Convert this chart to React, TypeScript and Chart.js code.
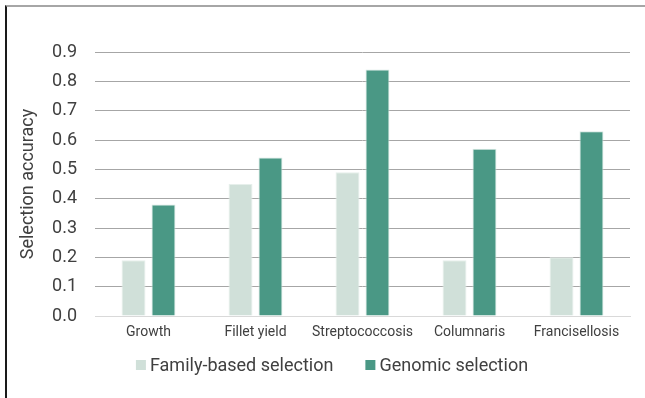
import React, { useEffect, useRef } from "react";
import { Chart, registerables } from "chart.js";

Chart.register(...registerables);

const categories = ["Growth", "Fillet yield", "Streptococcosis", "Columnaris", "Francisellosis"];
const familyBased = [0.19, 0.45, 0.49, 0.19, 0.2];
const genomic = [0.38, 0.54, 0.84, 0.57, 0.63];
const seriesNames = ["Family-based selection", "Genomic selection"];
const seriesColors = ["#d0e0d9", "#4a9885"];

const FONT = "Roboto, 'Noto Sans', sans-serif";
const TEXT = "#404040";

// Legend drawn beneath the category labels: small square swatch, tight gap, large text.
const bottomLegend = {
  id: "bottomLegend",
  afterDraw(chart: any) {
    const ctx = chart.ctx as CanvasRenderingContext2D;
    const fontSize = 18;
    const box = 10;
    const gap = 4;
    const spacing = 32;
    const y = 365;
    ctx.save();
    ctx.font = `${fontSize}px ${FONT}`;
    ctx.textBaseline = "middle";
    const items = chart.data.datasets.map((ds: any) => ({
      label: ds.label as string,
      color: ds.backgroundColor as string,
      w: box + gap + ctx.measureText(ds.label).width,
    }));
    const total = items.reduce((s: number, it: any) => s + it.w, 0) + spacing * (items.length - 1);
    const center = 332;
    let x = center - total / 2;
    for (const it of items) {
      ctx.fillStyle = it.color;
      ctx.fillRect(x, y - box / 2, box, box);
      ctx.fillStyle = TEXT;
      ctx.textAlign = "left";
      ctx.fillText(it.label, x + box + gap, y + 1);
      x += it.w + spacing;
    }
    ctx.restore();
  },
};

export default function App() {
  const canvasRef = useRef<HTMLCanvasElement | null>(null);

  useEffect(() => {
    if (!canvasRef.current) return;
    const chart = new Chart(canvasRef.current, {
      type: "bar",
      data: {
        labels: categories,
        datasets: [
          {
            label: seriesNames[0],
            data: familyBased,
            backgroundColor: seriesColors[0],
            borderColor: "#e6efeb",
            borderWidth: 1,
            categoryPercentage: 0.56,
            barPercentage: 0.8,
          },
          {
            label: seriesNames[1],
            data: genomic,
            backgroundColor: seriesColors[1],
            borderColor: "#d6e8e2",
            borderWidth: 1,
            categoryPercentage: 0.56,
            barPercentage: 0.8,
          },
        ],
      },
      options: {
        animation: false,
        responsive: false,
        devicePixelRatio: 1,
        layout: { padding: { top: 52, right: 15, bottom: 58, left: 0 } },
        plugins: {
          legend: { display: false },
          tooltip: { enabled: false },
        },
        scales: {
          x: {
            afterFit: (scale: any) => {
              scale.height = 24;
            },
            grid: { display: false, drawTicks: false },
            border: { display: true, color: "#d9d9d9", width: 1 },
            ticks: {
              color: TEXT,
              font: { family: FONT, size: 14 },
              padding: 8,
              maxRotation: 0,
              autoSkip: false,
            },
          },
          y: {
            min: 0,
            max: 0.9,
            afterFit: (scale: any) => {
              scale.width = 95;
            },
            grid: {
              color: (c: any) => (c.tick && c.tick.value === 0 ? "#d9d9d9" : "#a6a6a6"),
              lineWidth: 1,
              drawTicks: false,
            },
            border: { display: false },
            ticks: {
              stepSize: 0.1,
              color: TEXT,
              font: { family: FONT, size: 18 },
              padding: 18,
              callback: (v: any) => Number(v).toFixed(1),
            },
            title: {
              display: true,
              text: "Selection accuracy",
              color: TEXT,
              font: { family: FONT, size: 18 },
              padding: { top: 18, bottom: 0 },
            },
          },
        },
      },
      plugins: [bottomLegend],
    });
    return () => chart.destroy();
  }, []);

  return (
    <div style={{ position: "fixed", left: 0, top: 0, width: 645, height: 398, background: "#fff" }}>
      <canvas ref={canvasRef} width={645} height={398} style={{ position: "absolute", left: 0, top: 0 }} />
      <div
        style={{
          position: "absolute",
          left: 5,
          top: 5,
          right: 0,
          bottom: 0,
          borderTop: "2px solid #a6a6a6",
          borderLeft: "2px solid #1a1a1a",
          pointerEvents: "none",
        }}
      />
    </div>
  );
}
